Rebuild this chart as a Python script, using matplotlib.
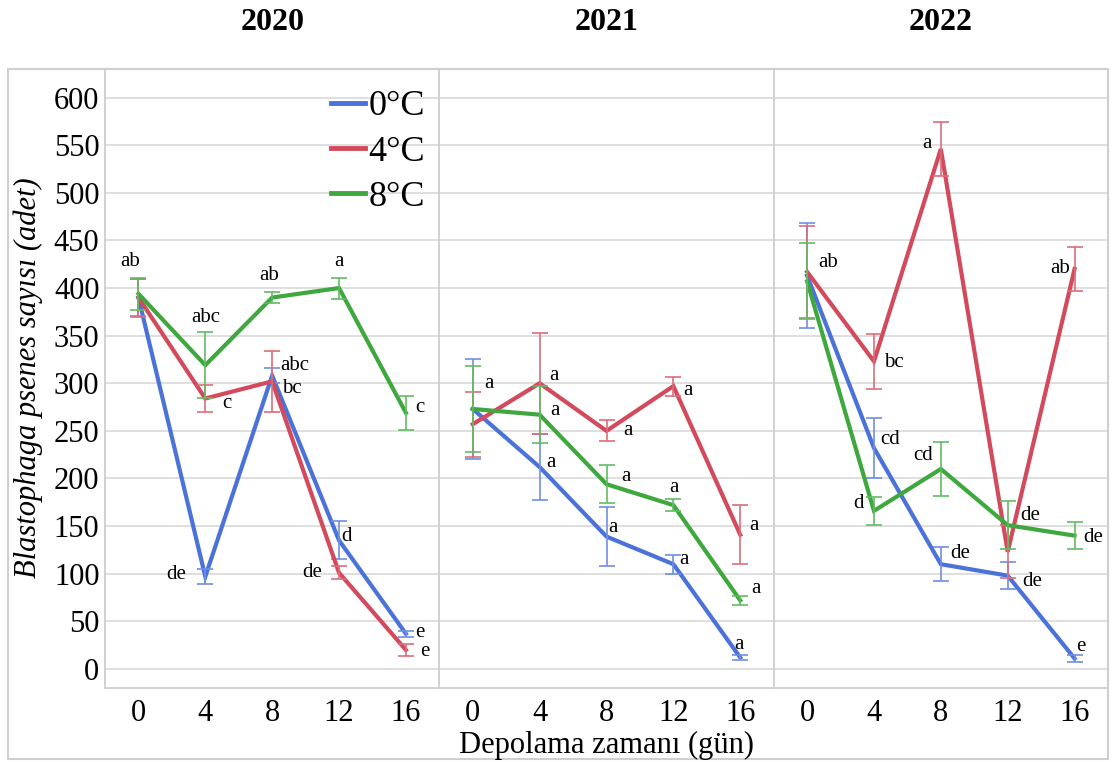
import matplotlib
matplotlib.use("Agg")
import matplotlib.pyplot as plt
from matplotlib.patches import Rectangle
from matplotlib.lines import Line2D

plt.rcParams['font.family'] = ['Liberation Serif', 'DejaVu Serif']

# ---------------- data ----------------
days = ['0', '4', '8', '12', '16']
years = ['2020', '2021', '2022']
temps = ['0°C', '4°C', '8°C']

mean_2020_0 = [390, 97, 308, 135, 37]
err_2020_0 = [19, 8, 8, 20, 3]
mean_2020_4 = [390, 284, 302, 101, 20]
err_2020_4 = [20, 14, 32, 7, 6]
mean_2020_8 = [394, 319, 390, 400, 269]
err_2020_8 = [17, 35, 6, 11, 18]

mean_2021_0 = [273, 212, 139, 110, 12]
err_2021_0 = [53, 35, 31, 10, 3]
mean_2021_4 = [257, 300, 250, 297, 141]
err_2021_4 = [34, 53, 11, 10, 31]
mean_2021_8 = [273, 267, 194, 172, 72]
err_2021_8 = [45, 30, 20, 6, 5]

mean_2022_0 = [413, 232, 110, 98, 11]
err_2022_0 = [55, 32, 18, 14, 4]
mean_2022_4 = [417, 323, 546, 123, 420]
err_2022_4 = [48, 29, 28, 28, 23]
mean_2022_8 = [407, 166, 210, 151, 140]
err_2022_8 = [40, 15, 28, 25, 14]

let_2020_0 = ['', 'de', 'abc', 'd', 'e']
let_2020_4 = ['', 'c', 'bc', 'de', 'e']
let_2020_8 = ['ab', 'abc', 'ab', 'a', 'c']
let_2021_0 = ['a', 'a', 'a', 'a', 'a']
let_2021_4 = ['', 'a', 'a', 'a', 'a']
let_2021_8 = ['', 'a', 'a', 'a', 'a']
let_2022_0 = ['', 'cd', 'de', 'de', 'e']
let_2022_4 = ['ab', 'bc', 'a', '', 'ab']
let_2022_8 = ['', 'd', 'cd', 'de', 'de']

# ---------------- layout (label offsets: dx in category units, dy in data units) ----
off_2020_0 = [(0, 0), (-0.43, 2), (0.34, 11), (0.11, 4), (0.21, 1)]
off_2020_4 = [(0, 0), (0.32, -5), (0.30, -7), (-0.40, 0), (0.28, -2)]
off_2020_8 = [(-0.12, 34), (0.0, 50), (-0.04, 23), (0.0, 28), (0.21, 6)]
off_2021_0 = [(0.24, 27), (0.17, 5), (0.09, 10), (0.16, 5), (-0.02, 14)]
off_2021_4 = [(0, 0), (0.21, 8), (0.32, 0), (0.22, -5), (0.20, 10)]
off_2021_8 = [(0, 0), (0.23, 4), (0.29, 8), (0.01, 19), (0.23, 12)]
off_2022_0 = [(0, 0), (0.24, 9), (0.29, 11), (0.36, -6), (0.10, 13)]
off_2022_4 = [(0.32, 10), (0.29, -1), (-0.21, 6), (0, 0), (-0.22, 1)]
off_2022_8 = [(0, 0), (-0.23, 8), (-0.26, 14), (0.33, 10), (0.28, -2)]

means = {'2020': [mean_2020_0, mean_2020_4, mean_2020_8],
         '2021': [mean_2021_0, mean_2021_4, mean_2021_8],
         '2022': [mean_2022_0, mean_2022_4, mean_2022_8]}
errs = {'2020': [err_2020_0, err_2020_4, err_2020_8],
        '2021': [err_2021_0, err_2021_4, err_2021_8],
        '2022': [err_2022_0, err_2022_4, err_2022_8]}
letters = {'2020': [let_2020_0, let_2020_4, let_2020_8],
           '2021': [let_2021_0, let_2021_4, let_2021_8],
           '2022': [let_2022_0, let_2022_4, let_2022_8]}
offsets = {'2020': [off_2020_0, off_2020_4, off_2020_8],
           '2021': [off_2021_0, off_2021_4, off_2021_8],
           '2022': [off_2022_0, off_2022_4, off_2022_8]}

colors = ['#4a72d9', '#d24a5c', '#3ea83e']
ecolors = ['#6f8fe3', '#dc6e7c', '#63bb63']
gray = '#cfcfcf'
gridc = '#d9d9d9'

W, H = 1115, 762
fig = plt.figure(figsize=(W / 100, H / 100), dpi=100)

left, right, top, bottom = 105, 1108, 69, 688
pw = (right - left) / 3
axes = []
for i, yr in enumerate(years):
    ax = fig.add_axes([(left + i * pw) / W, (H - bottom) / H, pw / W, (bottom - top) / H])
    axes.append(ax)
    x = list(range(len(days)))
    for k in range(3):
        ax.plot(x, means[yr][k], color=colors[k], lw=3.0, zorder=3 + k,
                solid_joinstyle='miter')
        ax.errorbar(x, means[yr][k], yerr=errs[yr][k], fmt='none', ecolor=ecolors[k],
                    elinewidth=1.2, capsize=6, capthick=1.2, zorder=3 + k)
        for j in range(len(days)):
            lab = letters[yr][k][j]
            if lab:
                dx, dy = offsets[yr][k][j]
                ax.text(j + dx, means[yr][k][j] + dy, lab, ha='center', va='center',
                        fontsize=15, color='black', zorder=10)
    ax.set_xlim(-0.5, len(days) - 0.5)
    ax.set_ylim(-20, 630)
    ax.set_xticks(x)
    ax.set_xticklabels(days)
    ax.set_yticks(range(0, 601, 50))
    ax.grid(axis='y', color=gridc, lw=1.2)
    ax.set_axisbelow(True)
    ax.tick_params(axis='both', length=0, labelsize=22)
    ax.tick_params(axis='x', pad=8)
    ax.tick_params(axis='y', pad=4)
    for s in ['left', 'right', 'bottom']:
        ax.spines[s].set_color(gray)
        ax.spines[s].set_linewidth(1.3)
    ax.spines['top'].set_visible(False)
    if i > 0:
        ax.tick_params(axis='y', labelleft=False)
    if i < 2:
        ax.spines['right'].set_visible(False)
    fig.text((left + (i + 0.5) * pw) / W, 1 - 23 / H, yr, ha='center', va='center',
             fontsize=23, fontweight='bold')

handles = [Line2D([0], [0], color=c, lw=3.5) for c in colors]
axes[0].legend(handles, temps, loc='upper left', bbox_to_anchor=(0.675, 0.966),
               frameon=False, fontsize=26, handlelength=0.95, handletextpad=0.1,
               labelspacing=0.33, borderpad=0, borderaxespad=0)

fig.text(28 / W, 1 - 378 / H, 'Blastophaga psenes sayısı (adet)', fontsize=22,
         style='italic', rotation=90, ha='center', va='center')
fig.text((left + 1.5 * pw) / W, 1 - 745 / H, 'Depolama zamanı (gün)', ha='center',
         va='center', fontsize=22)

fig.patches.append(Rectangle((8 / W, (H - 759) / H), (1108 - 8) / W, (759 - 69) / H,
                             transform=fig.transFigure, fill=False, ec=gray, lw=1.5,
                             zorder=0))

fig.savefig('out.png', dpi=100)
